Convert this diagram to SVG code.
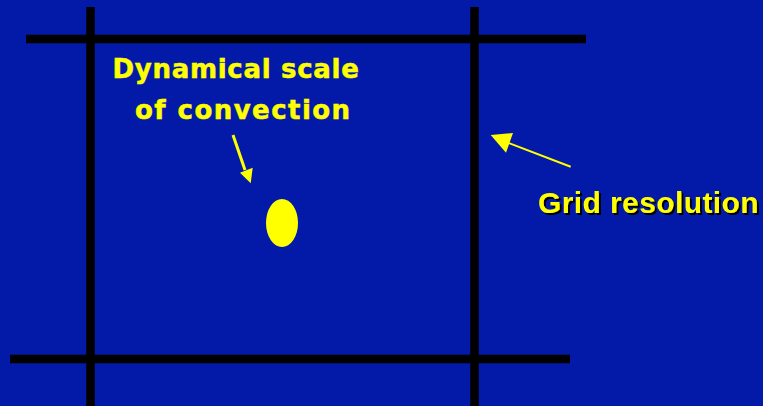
<svg xmlns="http://www.w3.org/2000/svg" width="763" height="406" viewBox="0 0 763 406">
<defs>
<filter id="shadow" x="-5%" y="-20%" width="110%" height="150%">
<feDropShadow dx="2" dy="2" stdDeviation="0.3" flood-color="#000" flood-opacity="1"/>
</filter>
</defs>
<style>
.grid{stroke:#000;stroke-width:8.5;fill:none}
.lbl{font-family:"DejaVu Sans",Verdana,sans-serif;font-weight:bold;font-size:26px;letter-spacing:0.7px;fill:#FFFF00;stroke:#FFFF00;stroke-width:0.5}
.gr{font-family:"Liberation Sans",Arial,sans-serif;font-weight:bold;font-size:30px;letter-spacing:0.4px;fill:#FFFF00}
.arr{stroke:#FFFF00;fill:none}
.head{fill:#FFFF00}
</style>
<rect x="0" y="0" width="763" height="406" fill="#031AA8"/>
<g id="grid">
<line class="grid" x1="90.5" y1="7" x2="90.5" y2="406"/>
<line class="grid" x1="474.5" y1="7" x2="474.5" y2="406"/>
<line class="grid" x1="26" y1="39" x2="586" y2="39"/>
<line class="grid" x1="10" y1="359" x2="570" y2="359"/>
</g>
<g id="convection">
<text class="lbl" x="112.5" y="78">Dynamical scale</text>
<text class="lbl" x="135" y="119" style="letter-spacing:1.45px">of convection</text>
<ellipse cx="282" cy="223" rx="16" ry="24" fill="#FFFF00"/>
</g>
<g id="grid-resolution">
<text class="gr" x="538" y="213" filter="url(#shadow)">Grid resolution</text>
</g>
<g id="connectors">
<line class="arr" stroke-width="3" x1="233" y1="135" x2="245" y2="170"/>
<polygon class="head" points="250.7,183.3 240,172.7 252.7,167.7"/>
<line class="arr" stroke-width="2" x1="570.7" y1="166.7" x2="506" y2="142"/>
<polygon class="head" points="490.7,135 513,133 506,152.7"/>
</g>
</svg>
